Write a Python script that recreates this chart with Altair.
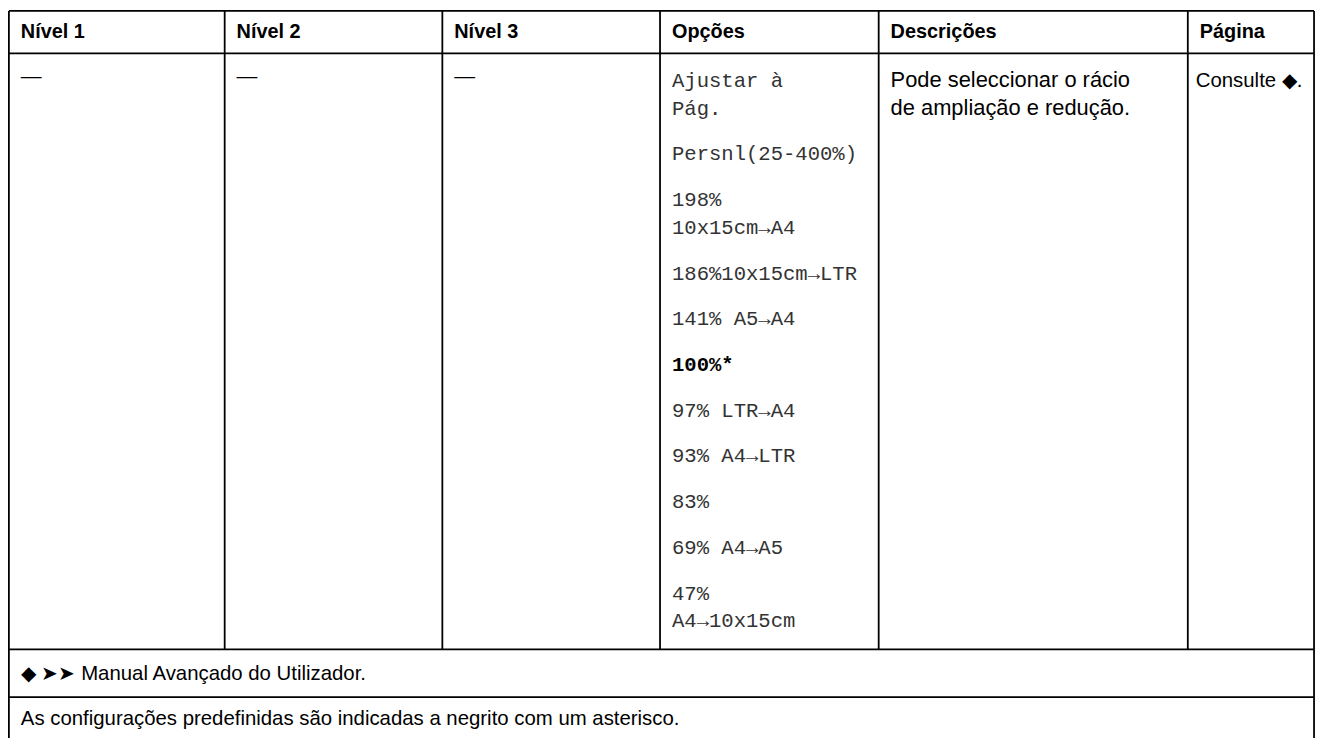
import altair as alt
import pandas as pd

# ---------------- data (table content) ----------------
headers = ["Nível 1", "Nível 2", "Nível 3", "Opções", "Descrições", "Página"]
level_values = ["—", "—", "—"]
options = [
    ["Ajustar à", "Pág."],
    ["Persnl(25-400%)"],
    ["198%", "10x15cm→A4"],
    ["186%10x15cm→LTR"],
    ["141% A5→A4"],
    ["100%*"],
    ["97% LTR→A4"],
    ["93% A4→LTR"],
    ["83%"],
    ["69% A4→A5"],
    ["47%", "A4→10x15cm"],
]
default_option = "100%*"
description_lines = ["Pode seleccionar o rácio", "de ampliação e redução."]
page_ref = ["Consulte ◆."]
footnotes = [
    "◆ ➤➤ Manual Avançado do Utilizador.",
    "As configurações predefinidas são indicadas a negrito com um asterisco.",
]

# ---------------- layout (page pixels) ----------------
MARGIN = 8
W, H = 1320, 730
col_edges = [8.9, 226, 445, 664, 884, 1195, 1322]
row_edges = [8.7, 51.5, 651, 699, 746]
PAD_X = 12
PAGE_PAD = 8
header_baseline = 36
dash_baseline = 81
first_baseline = 85
wrap_step = 28
item_step = 46
foot_baselines = [682, 727]

def cx(v):
    return v - MARGIN

# rules
segs = []
for r in row_edges:
    segs.append({"x": cx(col_edges[0]), "x2": cx(col_edges[-1]), "y": cx(r), "y2": cx(r)})
for c in (col_edges[0], col_edges[-1]):
    segs.append({"x": cx(c), "x2": cx(c), "y": cx(row_edges[0]), "y2": cx(row_edges[-1])})
for c in col_edges[1:-1]:
    segs.append({"x": cx(c), "x2": cx(c), "y": cx(row_edges[0]), "y2": cx(row_edges[2])})
rules_df = pd.DataFrame(segs)

header_df = pd.DataFrame({
    "x": [cx(c + PAD_X) for c in col_edges[:-1]],
    "y": [cx(header_baseline)] * len(headers),
    "text": headers,
})
dash_df = pd.DataFrame({
    "x": [cx(c + PAD_X) for c in col_edges[:3]],
    "y": [cx(dash_baseline)] * 3,
    "text": level_values,
})
opt_rows = []
yy = first_baseline
for item in options:
    for j, line in enumerate(item):
        opt_rows.append({"x": cx(col_edges[3] + PAD_X), "y": cx(yy + j * wrap_step),
                         "text": line, "bold": line == default_option})
    yy += (len(item) - 1) * wrap_step + item_step
opt_df = pd.DataFrame(opt_rows)
desc_df = pd.DataFrame({
    "x": [cx(col_edges[4] + PAD_X)] * len(description_lines),
    "y": [cx(first_baseline + i * wrap_step) for i in range(len(description_lines))],
    "text": description_lines,
})
page_df = pd.DataFrame({
    "x": [cx(col_edges[5] + PAGE_PAD)],
    "y": [cx(first_baseline)],
    "text": page_ref,
})
foot_df = pd.DataFrame({
    "x": [cx(col_edges[0] + PAD_X)] * 2,
    "y": [cx(b) for b in foot_baselines],
    "text": footnotes,
})

xs = alt.Scale(domain=[0, W], range=[0, W], nice=False, zero=False)
ys = alt.Scale(domain=[0, H], range=[0, H], nice=False, zero=False)

def txt(df, **kw):
    return alt.Chart(df).mark_text(align="left", baseline="alphabetic", **kw).encode(
        x=alt.X("x:Q", scale=xs, axis=None),
        y=alt.Y("y:Q", scale=ys, axis=None),
        text="text:N",
    )

rules = alt.Chart(rules_df).mark_rule(color="black", strokeWidth=1.8).encode(
    x=alt.X("x:Q", scale=xs, axis=None),
    x2="x2:Q",
    y=alt.Y("y:Q", scale=ys, axis=None),
    y2="y2:Q",
)

SANS = "Liberation Sans, Arial, sans-serif"
MONO = "Liberation Mono, Courier New, monospace"

layers = [
    rules,
    txt(header_df, font=SANS, fontSize=20, fontWeight="bold", color="black"),
    txt(dash_df, font=SANS, fontSize=21, color="black"),
    txt(opt_df[~opt_df["bold"]], font=MONO, fontSize=20.7, color="#333333"),
    txt(opt_df[opt_df["bold"]], font=MONO, fontSize=20.7, fontWeight="bold", color="black"),
    txt(desc_df, font=SANS, fontSize=22, color="black"),
    txt(page_df, font=SANS, fontSize=20.5, color="black"),
    txt(foot_df, font=SANS, fontSize=20.5, color="black"),
]

chart = alt.layer(*layers).properties(
    width=W, height=H,
    autosize=alt.AutoSizeParams(type="none"),
    padding=0,
    background="white",
).configure_view(stroke=None)

chart.save("out.html", embed_options={"renderer": "svg", "actions": False})
